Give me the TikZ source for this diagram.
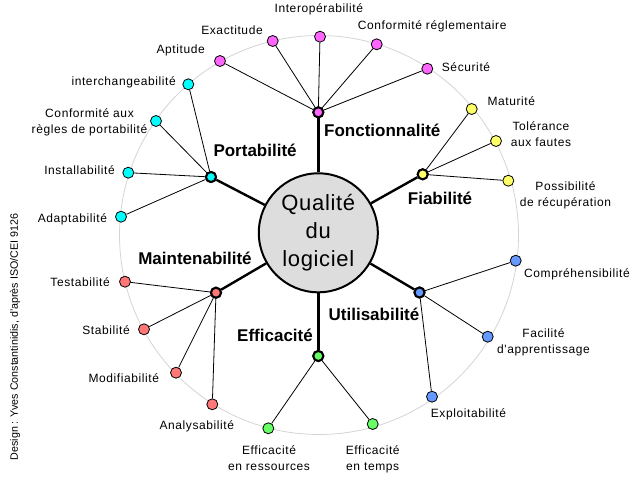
\documentclass[tikz,border=0pt]{standalone}
\usepackage{fontspec}
\setmainfont{Liberation Sans}
\newfontfamily\labfont[LetterSpace=5]{Liberation Sans}
\newfontfamily\ctrfont[LetterSpace=3]{Liberation Sans}
\definecolor{magc}{RGB}{255,102,255}
\definecolor{cyanc}{RGB}{0,255,255}
\definecolor{yelc}{RGB}{255,255,102}
\definecolor{bluc}{RGB}{102,153,255}
\definecolor{grnc}{RGB}{102,255,102}
\definecolor{redc}{RGB}{255,119,119}
\definecolor{ctrfill}{RGB}{221,221,221}
\definecolor{ringc}{RGB}{212,212,212}
\tikzset{
  dot/.style={circle, draw=black, line width=0.8pt, minimum size=11pt, inner sep=0pt},
  hub/.style={circle, draw=black, line width=2pt, minimum size=10pt, inner sep=0pt},
  thin/.style={line width=0.8pt},
  thick2/.style={line width=2.4pt},
  lab/.style={font=\labfont\fontsize{12}{16}\selectfont, inner sep=0pt, align=center},
  blab/.style={font=\bfseries\fontsize{17}{20}\selectfont, inner sep=0pt},
  ctr/.style={circle, draw=black, line width=2pt, fill=ctrfill, minimum size=119pt, inner sep=0pt, align=center, font=\ctrfont\fontsize{22}{28}\selectfont}
}
\begin{document}
\begin{tikzpicture}[x=1pt,y=-1pt]
\useasboundingbox (0,0) rectangle (639,479);
% outer ring
\draw[ringc, line width=0.8pt] (319,235) circle[radius=199.5];
% hubs
\node[hub, fill=magc] (F) at (318.3,112.3) {};
\node[hub, fill=cyanc] (P) at (211,177) {};
\node[hub, fill=yelc] (R) at (422.7,174.3) {};
\node[hub, fill=bluc] (U) at (419.5,292.5) {};
\node[hub, fill=grnc] (E) at (318.3,356) {};
\node[hub, fill=redc] (M) at (216,292.7) {};
% leaf dots
\node[dot, fill=magc] (f1) at (220,61) {};
\node[dot, fill=magc] (f2) at (272.7,41) {};
\node[dot, fill=magc] (f3) at (320,36.7) {};
\node[dot, fill=magc] (f4) at (376.7,44.3) {};
\node[dot, fill=magc] (f5) at (427.3,68.7) {};
\node[dot, fill=cyanc] (p1) at (188.3,84.3) {};
\node[dot, fill=cyanc] (p2) at (156,121) {};
\node[dot, fill=cyanc] (p3) at (128.3,172.7) {};
\node[dot, fill=cyanc] (p4) at (121,216.7) {};
\node[dot, fill=yelc] (r1) at (471.7,109) {};
\node[dot, fill=yelc] (r2) at (496,141) {};
\node[dot, fill=yelc] (r3) at (508.3,180.7) {};
\node[dot, fill=bluc] (u1) at (515.7,260.7) {};
\node[dot, fill=bluc] (u2) at (487.7,336.7) {};
\node[dot, fill=bluc] (u3) at (432,396.7) {};
\node[dot, fill=grnc] (e1) at (268.3,428.3) {};
\node[dot, fill=grnc] (e2) at (372.7,424) {};
\node[dot, fill=redc] (m1) at (125,281.7) {};
\node[dot, fill=redc] (m2) at (144,329.3) {};
\node[dot, fill=redc] (m3) at (176,372.7) {};
\node[dot, fill=redc] (m4) at (212.3,404.3) {};
% center
\node[ctr] (C) at (318.3,232.8) {Qualité\\du\\logiciel};
% connectors
\foreach \a in {f1,f2,f3,f4,f5} \draw[thin] (F) -- (\a);
\foreach \a in {p1,p2,p3,p4} \draw[thin] (P) -- (\a);
\foreach \a in {r1,r2,r3} \draw[thin] (R) -- (\a);
\foreach \a in {u1,u2,u3} \draw[thin] (U) -- (\a);
\foreach \a in {e1,e2} \draw[thin] (E) -- (\a);
\foreach \a in {m1,m2,m3,m4} \draw[thin] (M) -- (\a);
\foreach \h in {F,P,R,U,E,M} \draw[thick2] (C) -- (\h);
% redraw hubs on top
\node[hub, fill=magc] at (F) {};
\node[hub, fill=cyanc] at (P) {};
\node[hub, fill=yelc] at (R) {};
\node[hub, fill=bluc] at (U) {};
\node[hub, fill=grnc] at (E) {};
\node[hub, fill=redc] at (M) {};
% leaf labels
\node[lab, anchor=base] (tf3) at (318.8,12.7) {Interopérabilité};
\node[lab, anchor=base] (tf2) at (232,34) {Exactitude};
\node[lab, anchor=base west] (tf4) at (357.7,29.3) {Conformité réglementaire};
\node[lab, anchor=base west] (tf5) at (441.7,71) {Sécurité};
\node[lab, anchor=base east] (tf1) at (205,53.3) {Aptitude};
\node[lab, anchor=base east] (tp1) at (176,85.7) {interchangeabilité};
\node[lab, anchor=base] (tp2) at (89.5,133.3) {Conformité aux\\règles de portabilité};
\node[lab, anchor=base east] (tp3) at (115,174.3) {Installabilité};
\node[lab, anchor=base east] (tp4) at (107.3,222) {Adaptabilité};
\node[lab, anchor=base east] (tm1) at (110,286.7) {Testabilité};
\node[lab, anchor=base east] (tm2) at (130,334.3) {Stabilité};
\node[lab, anchor=base east] (tm3) at (159.3,382.3) {Modifiabilité};
\node[lab, anchor=base east] (tm4) at (234.3,429) {Analysabilité};
\node[lab, anchor=base] (te1) at (269,470.7) {Efficacité\\en ressources};
\node[lab, anchor=base] (te2) at (372.7,470.7) {Efficacité\\en temps};
\node[lab, anchor=base west] (tu3) at (430.7,417.7) {Exploitabilité};
\node[lab, anchor=base] (tu2) at (543.5,353.3) {Facilité\\d'apprentissage};
\node[lab, anchor=base west] (tu1) at (524,277.7) {Compréhensibilité};
\node[lab, anchor=base] (tr3) at (565.5,206.7) {Possibilité\\de récupération};
\node[lab, anchor=base] (tr2) at (541,146.7) {Tolérance\\aux fautes};
\node[lab, anchor=base west] (tr1) at (487.3,105.7) {Maturité};
% hub labels
\node[blab, anchor=base west] (tF) at (324,136.7) {Fonctionnalité};
\node[blab, anchor=base west] (tP) at (213.3,156) {Portabilité};
\node[blab, anchor=base] (tR) at (440,204) {Fiabilité};
\node[blab, anchor=base] (tU) at (374,320.7) {Utilisabilité};
\node[blab, anchor=base] (tE) at (275,341) {Efficacité};
\node[blab, anchor=base] (tM) at (195,264) {Maintenabilité};
% credit
\node[font=\fontsize{10.7}{12}\selectfont, rotate=90, inner sep=0pt] (cr) at (15,337) {Design : Yves Constantinidis, d'après ISO/CEI 9126};
\end{tikzpicture}
\end{document}
